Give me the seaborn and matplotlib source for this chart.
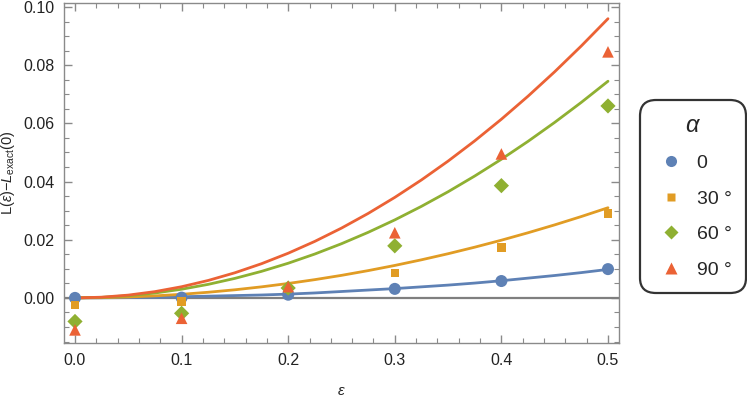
import numpy as np
import pandas as pd
import matplotlib
matplotlib.use("Agg")
import matplotlib.pyplot as plt
from matplotlib.lines import Line2D
from matplotlib.ticker import MultipleLocator
import seaborn as sns

# ---- data ----
eps_points = [0.0, 0.1, 0.2, 0.3, 0.4, 0.5]
pts_0 = [0.0, 0.0001, 0.0011, 0.0031, 0.0058, 0.0099]
pts_30 = [-0.0024, -0.0013, 0.0030, 0.0085, 0.0174, 0.0291]
pts_60 = [-0.0081, -0.0053, 0.0034, 0.0179, 0.0386, 0.0660]
pts_90 = [-0.0110, -0.0070, 0.0039, 0.0224, 0.0495, 0.0846]

eps_curve = [0.0, 0.025, 0.05, 0.075, 0.1, 0.125, 0.15, 0.175, 0.2, 0.225, 0.25,
             0.275, 0.3, 0.325, 0.35, 0.375, 0.4, 0.425, 0.45, 0.475, 0.5]
curve_0 = [0.0, 0.00003, 0.0001, 0.0002, 0.0004, 0.0006, 0.0008, 0.0010, 0.0013, 0.0017,
           0.0022, 0.0027, 0.0032, 0.0038, 0.0044, 0.0051, 0.0059, 0.0068, 0.0077, 0.0087, 0.0098]
curve_30 = [0.0, 0.00008, 0.00031, 0.0007, 0.00124, 0.00194, 0.00279, 0.0038, 0.00496, 0.00628,
            0.00775, 0.00938, 0.01116, 0.0131, 0.01519, 0.01744, 0.01984, 0.0224, 0.02511, 0.02798, 0.0310]
curve_60 = [0.0, 0.00019, 0.00075, 0.00168, 0.00298, 0.00466, 0.00671, 0.00913, 0.01192, 0.01509,
            0.01863, 0.02254, 0.02682, 0.03148, 0.0365, 0.04191, 0.04768, 0.05383, 0.06035, 0.06724, 0.0745]
curve_90 = [0.0, 0.00024, 0.00096, 0.00216, 0.00384, 0.0060, 0.00864, 0.01176, 0.01536, 0.01944,
            0.0240, 0.02904, 0.03456, 0.04056, 0.04704, 0.0540, 0.06144, 0.06936, 0.07776, 0.08664, 0.0960]

labels = ["0", "30 °", "60 °", "90 °"]
colors = ["#5E81B5", "#E19C24", "#8FB032", "#EB6235"]
markers = ["o", "s", "D", "^"]
msizes = [75, 38, 60, 70]

pts_df = pd.concat([
    pd.DataFrame({"eps": eps_points, "val": v, "alpha": lab})
    for v, lab in zip([pts_0, pts_30, pts_60, pts_90], labels)
])
curve_df = pd.concat([
    pd.DataFrame({"eps": eps_curve, "val": v, "alpha": lab})
    for v, lab in zip([curve_0, curve_30, curve_60, curve_90], labels)
])

sns.set_style("ticks")
plt.rcParams["font.family"] = ["Liberation Sans", "DejaVu Sans"]
plt.rcParams["mathtext.fontset"] = "custom"
plt.rcParams["mathtext.rm"] = "Liberation Sans"
plt.rcParams["mathtext.it"] = "Liberation Sans:italic"

fig = plt.figure(figsize=(7.47, 3.99), dpi=100)
ax = fig.add_axes([0.0857, 0.1404, 0.7429, 0.8521])

ax.axhline(0, color="#7f7f7f", lw=1.6, zorder=1)

pal = dict(zip(labels, colors))
sns.lineplot(data=curve_df, x="eps", y="val", hue="alpha", palette=pal,
             lw=2.0, legend=False, ax=ax, zorder=2)
for lab, c, m, s in zip(labels, colors, markers, msizes):
    sub = pts_df[pts_df["alpha"] == lab]
    sns.scatterplot(data=sub, x="eps", y="val", color=c, marker=m, s=s,
                    edgecolor="none", legend=False, ax=ax, zorder=3)

ax.set_xlim(-0.0103, 0.5103)
ax.set_ylim(-0.0155, 0.1014)
ax.xaxis.set_major_locator(MultipleLocator(0.1))
ax.xaxis.set_minor_locator(MultipleLocator(0.02))
ax.yaxis.set_major_locator(MultipleLocator(0.02))
ax.yaxis.set_minor_locator(MultipleLocator(0.005))
ax.xaxis.set_major_formatter(plt.FuncFormatter(lambda v, p: f"{v:.1f}"))
ax.yaxis.set_major_formatter(plt.FuncFormatter(lambda v, p: f"{v:.2f}"))

for sp in ax.spines.values():
    sp.set_visible(True)
    sp.set_color("#8a8a8a")
    sp.set_linewidth(1.0)
ax.tick_params(which="both", direction="in", top=True, right=True,
               color="#8a8a8a", labelsize=11.5, labelcolor="#222222")
ax.tick_params(which="major", length=6, width=1.0, pad=7)
ax.tick_params(which="minor", length=3.5, width=0.8)

ax.set_xlabel(r"$\epsilon$", fontsize=11, labelpad=12)
ax.set_ylabel(r"L($\epsilon$)$-L_{\mathrm{exact}}(0)$", fontsize=10.5, labelpad=4)

handles = [Line2D([0], [0], marker=m, color="none", markerfacecolor=c,
                  markeredgecolor="none", markersize=ms)
           for m, c, ms in zip(markers, colors, [8, 6, 7, 8])]
leg = fig.legend(handles, labels, title=r"$\alpha$", loc="upper left",
                 bbox_to_anchor=(0.857, 0.749), frameon=True, fancybox=True,
                 fontsize=14, title_fontsize=17, labelspacing=0.92,
                 handletextpad=0.45, borderpad=0.75, handlelength=1.7,
                 borderaxespad=0.0, alignment="center")
fr = leg.get_frame()
fr.set_edgecolor("black")
fr.set_linewidth(1.6)
fr.set_boxstyle("round,pad=0.0,rounding_size=0.8")

fig.savefig("out.png", dpi=100)
